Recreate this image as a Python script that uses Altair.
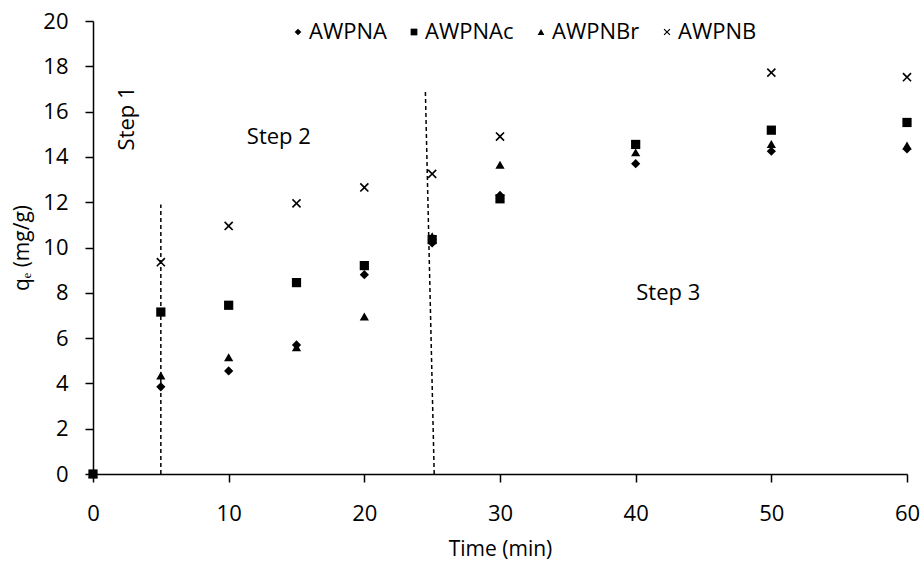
import altair as alt
import pandas as pd

series_names = ["AWPNA", "AWPNAc", "AWPNBr", "AWPNB"]
times = [0, 5, 10, 15, 20, 25, 30, 40, 50, 60]
awpna = [0, 3.85, 4.55, 5.7, 8.8, 10.2, 12.3, 13.7, 14.25, 14.35]
awpnac = [0, 7.15, 7.45, 8.45, 9.2, 10.35, 12.15, 14.55, 15.18, 15.52]
awpnbr = [0, 4.35, 5.15, 5.6, 6.95, 10.5, 13.65, 14.2, 14.57, 14.5]
awpnb = [None, 9.35, 10.95, 11.95, 12.65, 13.25, 14.9, None, 17.72, 17.52]

div_x = [5, 25.15]
div_x2 = [5, 24.5]
div_y = [0, 0]
div_y2 = [11.9, 16.9]

step_text = ["Step 1", "Step 2", "Step 3"]
step_x = [2.5, 13.7, 42.4]
step_y = [15.7, 14.9, 8.0]
step_angle = [270, 0, 0]

FONT = "Open Sans"

rows = []
for name, vals in zip(series_names, [awpna, awpnac, awpnbr, awpnb]):
    for t, v in zip(times, vals):
        if v is not None:
            rows.append({"Time": t, "q": v, "Series": name})
df = pd.DataFrame(rows)

xpath = "M-1,-0.75L-0.75,-1L0,-0.25L0.75,-1L1,-0.75L0.25,0L1,0.75L0.75,1L0,0.25L-0.75,1L-1,0.75L-0.25,0Z"

xscale = alt.Scale(domain=[0, 60], nice=False, zero=False)
yscale = alt.Scale(domain=[0, 20], nice=False)

points = alt.Chart(df).mark_point(filled=True, opacity=1, size=85, color="black").encode(
    x=alt.X("Time:Q", scale=xscale, title="Time (min)",
            axis=alt.Axis(values=[0, 10, 20, 30, 40, 50, 60], grid=False, titlePadding=14,
                          labelPadding=21, labelFlush=False)),
    y=alt.Y("q:Q", scale=yscale, title="qₑ (mg/g)",
            axis=alt.Axis(values=list(range(0, 21, 2)), grid=False, titleX=-71,
                          titleBaseline="middle", labelPadding=17)),
    shape=alt.Shape("Series:N", sort=series_names,
                    scale=alt.Scale(domain=series_names,
                                    range=["diamond", "square", "triangle-up", xpath]),
                    legend=alt.Legend(title=None, orient="none", direction="horizontal",
                                      legendX=194, legendY=0, labelFontSize=22, labelFont=FONT,
                                      labelColor="black", symbolSize=45, symbolFillColor="black",
                                      symbolStrokeColor="black", columnPadding=16,
                                      symbolOffset=0, labelOffset=0, padding=0)),
)

div_df = pd.DataFrame({"x": div_x, "x2": div_x2, "y": div_y, "y2": div_y2})
divs = alt.Chart(div_df).mark_rule(color="black", strokeDash=[4, 3], strokeWidth=1.5).encode(
    x=alt.X("x:Q", scale=xscale), x2="x2:Q",
    y=alt.Y("y:Q", scale=yscale), y2="y2:Q",
)

txt_df = pd.DataFrame({"x": step_x, "y": step_y, "t": step_text, "a": step_angle})
txt_h = alt.Chart(txt_df[txt_df["a"] == 0]).mark_text(fontSize=22, font=FONT, color="black").encode(
    x=alt.X("x:Q", scale=xscale), y=alt.Y("y:Q", scale=yscale), text="t:N")
txt_v = alt.Chart(txt_df[txt_df["a"] != 0]).mark_text(fontSize=22, font=FONT, color="black", angle=270).encode(
    x=alt.X("x:Q", scale=xscale), y=alt.Y("y:Q", scale=yscale), text="t:N")

chart = alt.layer(divs, points, txt_h, txt_v).properties(
    width=814, height=453,
    autosize=alt.AutoSizeParams(type="none"),
    padding={"left": 93, "top": 21, "right": 17, "bottom": 91},
).configure_view(stroke=None).configure_axis(
    labelFont=FONT, titleFont=FONT, labelFontSize=22, titleFontSize=21,
    labelColor="black", titleColor="black", titleFontWeight="normal",
    domainColor="black", tickColor="black", domainWidth=1.5, tickWidth=1.5, tickSize=8,
)

chart.save("out.html", embed_options={"renderer": "svg", "actions": False})
